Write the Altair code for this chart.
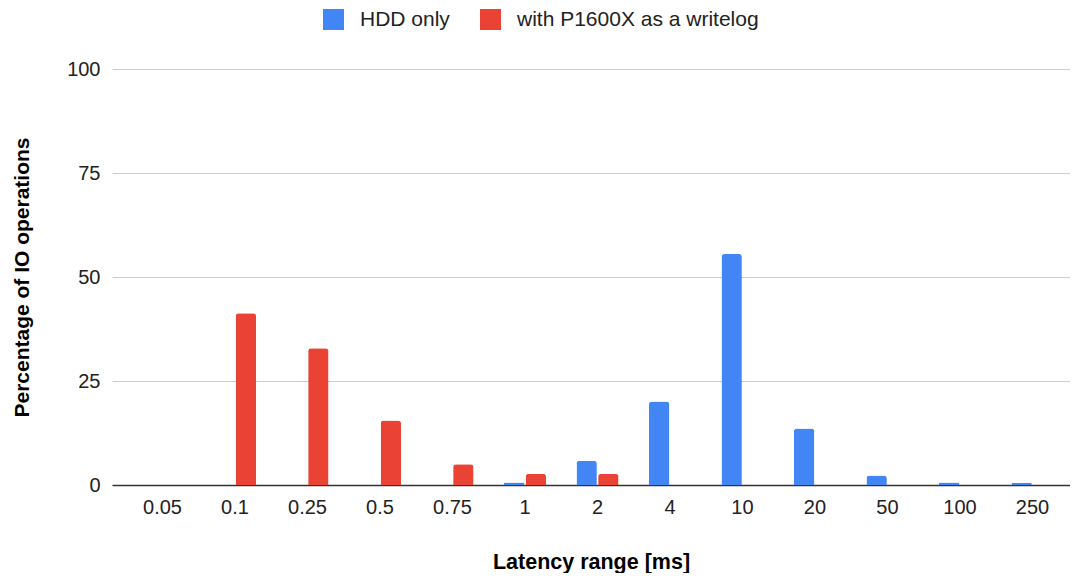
import altair as alt
import pandas as pd

categories = ["0.05", "0.1", "0.25", "0.5", "0.75", "1", "2", "4", "10", "20", "50", "100", "250"]
hdd_only = [0, 0, 0, 0, 0, 0.6, 5.8, 20.1, 55.5, 13.6, 2.3, 0.6, 0.5]
with_writelog = [0, 41.3, 32.9, 15.5, 5.0, 2.7, 2.7, 0, 0, 0, 0, 0, 0]
series_names = ["HDD only", "with P1600X as a writelog"]
colors = ["#4285F4", "#EA4335"]

rows = []
for c, a, b in zip(categories, hdd_only, with_writelog):
    rows.append({"range": c, "series": series_names[0], "value": a})
    rows.append({"range": c, "series": series_names[1], "value": b})
df = pd.DataFrame(rows)

FONT = "Liberation Sans, Arial, sans-serif"

chart = (
    alt.Chart(df)
    .transform_filter("datum.value > 0")
    .mark_bar(cornerRadiusTopLeft=3, cornerRadiusTopRight=3)
    .encode(
        x=alt.X(
            "range:N",
            sort=categories,
            scale=alt.Scale(
                paddingInner=0.4207, paddingOuter=0.3175, align=0.641, domain=categories
            ),
            axis=alt.Axis(
                title="Latency range [ms]",
                labelAngle=0,
                labelFontSize=20,
                labelColor="#222222",
                labelPadding=12,
                ticks=False,
                domainColor="#333333",
                domainWidth=1.5,
                titleFontSize=21.5,
                titleFontWeight="bold",
                titleColor="#000000",
                titlePadding=34,
            ),
        ),
        xOffset=alt.XOffset(
            "series:N", scale=alt.Scale(domain=series_names, paddingInner=0.06)
        ),
        y=alt.Y(
            "value:Q",
            scale=alt.Scale(domain=[0, 100]),
            axis=alt.Axis(
                title="Percentage of IO operations",
                values=[0, 25, 50, 75, 100],
                labelFontSize=20,
                labelColor="#222222",
                labelPadding=12,
                ticks=False,
                domain=False,
                gridColor="#cccccc",
                gridWidth=1.2,
                titleFontSize=21,
                titleFontWeight="bold",
                titleColor="#000000",
                titlePadding=34,
            ),
        ),
        color=alt.Color(
            "series:N",
            scale=alt.Scale(domain=series_names, range=colors),
            legend=alt.Legend(
                title=None,
                orient="none",
                direction="horizontal",
                legendX=211,
                legendY=-60,
                symbolType="square",
                symbolSize=441,
                symbolStrokeWidth=0,
                labelFontSize=21,
                labelColor="#222222",
                labelLimit=400,
                columnPadding=30,
                labelOffset=16,
            ),
        ),
    )
    .properties(
        width=958,
        height=416,
        autosize=alt.AutoSizeParams(type="none"),
        padding={"left": 104, "top": 61, "right": 0, "bottom": 88},
    )
    .configure(font=FONT)
    .configure_view(stroke=None)
)

chart.save("out.html", embed_options={"renderer": "svg", "actions": False})
